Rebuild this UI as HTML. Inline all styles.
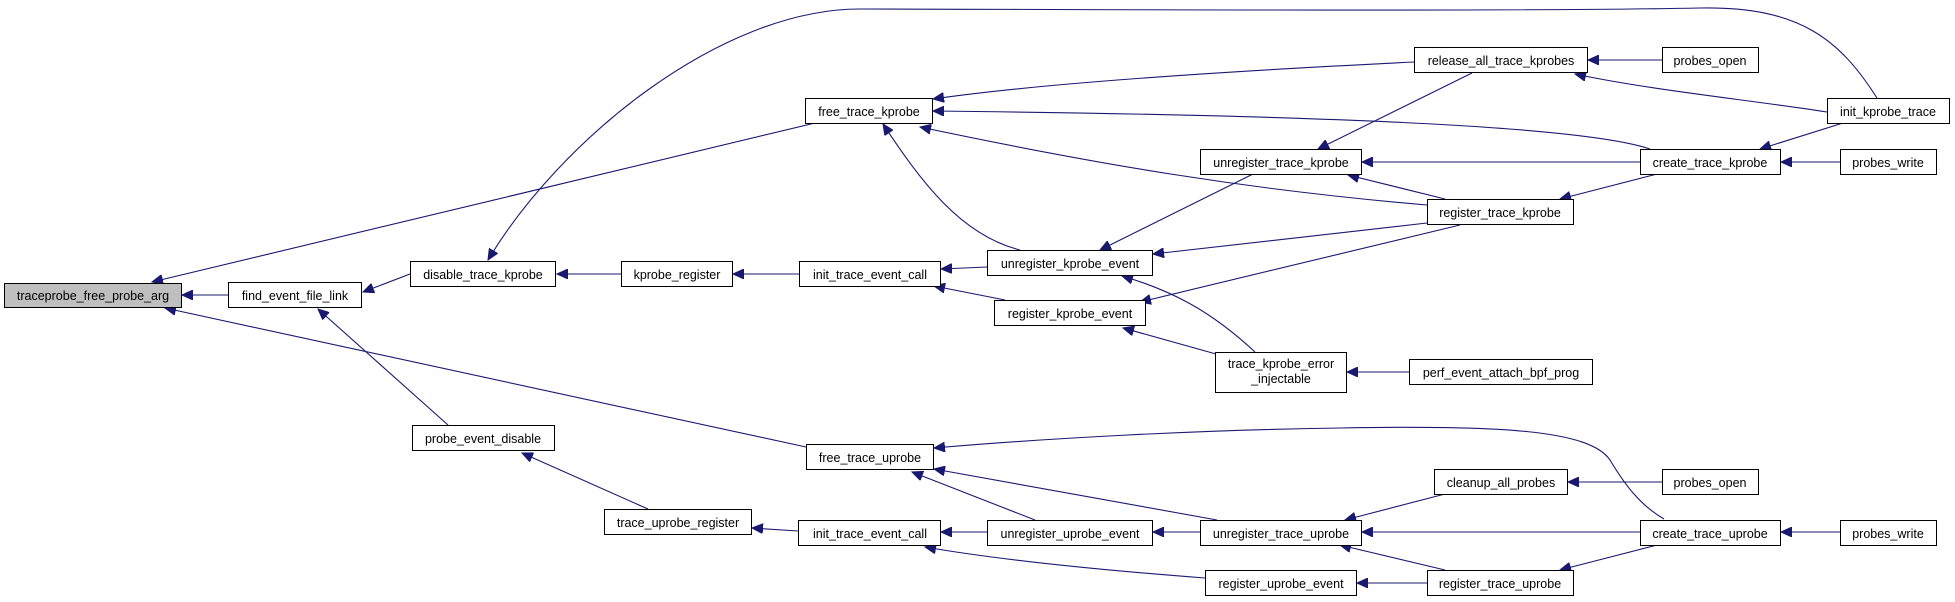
<!DOCTYPE html>
<html><head><meta charset="utf-8"><style>
html,body{margin:0;padding:0;background:#fff;}
svg{display:block;}
text{font-family:"Liberation Sans",sans-serif;font-size:12.5px;fill:#000;text-anchor:middle;}
.b{fill:#fff;stroke:#000;stroke-width:1;}
.e{fill:none;stroke:#191970;stroke-width:1.1;}
</style></head><body>
<svg width="1955" height="602" viewBox="0 0 1955 602" xmlns="http://www.w3.org/2000/svg">
<defs>
<marker id="a" markerWidth="12" markerHeight="10" refX="11" refY="5" orient="auto" markerUnits="userSpaceOnUse">
<path d="M0,0 L11,5 L0,10 Z" fill="#191970" stroke="#191970"/>
</marker>
</defs>
<g marker-end="url(#a)">
<path class="e" d="M228,295 L182,295"/>
<path class="e" d="M815,123 L152,282"/>
<path class="e" d="M806,447 L165,308"/>
<path class="e" d="M410,274 L363,292"/>
<path class="e" d="M448,425 L318,309"/>
<path class="e" d="M1877,98 C1840,40 1800,6 1700,8 C1500,12 1000,9 860,9 C720,9 560,140 488,260"/>
<path class="e" d="M621,274 L557,274"/>
<path class="e" d="M799,274 L733,274"/>
<path class="e" d="M987,267 L941,269"/>
<path class="e" d="M1005,300 L934,286"/>
<path class="e" d="M1414,62 C1250,70 1050,82 933,99"/>
<path class="e" d="M1650,149 C1580,125 1300,115 933,111"/>
<path class="e" d="M1427,205 C1250,190 1100,165 920,127"/>
<path class="e" d="M1020,250 C960,235 920,180 883,124"/>
<path class="e" d="M1253,174 L1100,250"/>
<path class="e" d="M1427,223 L1153,254"/>
<path class="e" d="M1460,225 L1140,302"/>
<path class="e" d="M1255,352 C1210,310 1170,290 1122,276"/>
<path class="e" d="M1216,354 L1123,328"/>
<path class="e" d="M1409,372 L1347,372"/>
<path class="e" d="M1472,73 L1318,149"/>
<path class="e" d="M1662,60 L1588,60"/>
<path class="e" d="M1827,112 C1750,100 1650,90 1575,74"/>
<path class="e" d="M1640,162 L1362,162"/>
<path class="e" d="M1445,199 L1348,175"/>
<path class="e" d="M1843,123 L1760,149"/>
<path class="e" d="M1840,162 L1781,162"/>
<path class="e" d="M1657,174 L1560,199"/>
<path class="e" d="M648,509 L522,453"/>
<path class="e" d="M798,531 L752,528"/>
<path class="e" d="M987,532 L941,532"/>
<path class="e" d="M1205,578 C1100,570 1000,560 925,547"/>
<path class="e" d="M1664,519 C1640,505 1625,485 1610,460 C1590,430 1500,425 1340,428 C1200,430 1050,438 934,448"/>
<path class="e" d="M1035,520 L912,472"/>
<path class="e" d="M1217,520 L934,469"/>
<path class="e" d="M1200,532 L1153,532"/>
<path class="e" d="M1445,494 L1345,520"/>
<path class="e" d="M1662,482 L1568,482"/>
<path class="e" d="M1640,532 L1362,532"/>
<path class="e" d="M1445,570 L1340,545"/>
<path class="e" d="M1657,545 L1560,570"/>
<path class="e" d="M1840,532 L1781,532"/>
<path class="e" d="M1427,583 L1357,583"/>
</g>
<g>
<rect x="4.5" y="283.5" width="177" height="24" fill="#bfbfbf" stroke="#000"/><text x="93" y="300">traceprobe_free_probe_arg</text>
<rect class="b" x="228.5" y="282.5" width="133" height="25"/><text x="295" y="300">find_event_file_link</text>
<rect class="b" x="410.5" y="261.5" width="145" height="25"/><text x="483" y="279">disable_trace_kprobe</text>
<rect class="b" x="621.5" y="261.5" width="111" height="25"/><text x="677" y="279">kprobe_register</text>
<rect class="b" x="799.5" y="261.5" width="141" height="25"/><text x="870" y="279">init_trace_event_call</text>
<rect class="b" x="987.5" y="250.5" width="165" height="25"/><text x="1070" y="268">unregister_kprobe_event</text>
<rect class="b" x="994.5" y="300.5" width="151" height="25"/><text x="1070" y="318">register_kprobe_event</text>
<rect class="b" x="805.5" y="98.5" width="127" height="25"/><text x="869" y="116">free_trace_kprobe</text>
<rect class="b" x="1414.5" y="47.5" width="173" height="25"/><text x="1501" y="65">release_all_trace_kprobes</text>
<rect class="b" x="1662.5" y="47.5" width="96" height="25"/><text x="1710" y="65">probes_open</text>
<rect class="b" x="1827.5" y="98.5" width="122" height="25"/><text x="1888" y="116">init_kprobe_trace</text>
<rect class="b" x="1200.5" y="149.5" width="161" height="25"/><text x="1281" y="167">unregister_trace_kprobe</text>
<rect class="b" x="1640.5" y="149.5" width="140" height="25"/><text x="1710" y="167">create_trace_kprobe</text>
<rect class="b" x="1840.5" y="149.5" width="96" height="25"/><text x="1888" y="167">probes_write</text>
<rect class="b" x="1427.5" y="199.5" width="146" height="25"/><text x="1500" y="217">register_trace_kprobe</text>
<rect class="b" x="1215.5" y="352.5" width="131" height="40"/><text x="1281" y="368">trace_kprobe_error</text><text x="1281" y="383">_injectable</text>
<rect class="b" x="1409.5" y="359.5" width="183" height="25"/><text x="1501" y="377">perf_event_attach_bpf_prog</text>
<rect class="b" x="412.5" y="425.5" width="142" height="25"/><text x="483" y="443">probe_event_disable</text>
<rect class="b" x="806.5" y="444.5" width="127" height="25"/><text x="870" y="462">free_trace_uprobe</text>
<rect class="b" x="604.5" y="509.5" width="147" height="25"/><text x="678" y="527">trace_uprobe_register</text>
<rect class="b" x="798.5" y="520.5" width="142" height="25"/><text x="870" y="538">init_trace_event_call</text>
<rect class="b" x="987.5" y="520.5" width="165" height="25"/><text x="1070" y="538">unregister_uprobe_event</text>
<rect class="b" x="1434.5" y="469.5" width="133" height="25"/><text x="1501" y="487">cleanup_all_probes</text>
<rect class="b" x="1662.5" y="469.5" width="96" height="25"/><text x="1710" y="487">probes_open</text>
<rect class="b" x="1200.5" y="520.5" width="161" height="25"/><text x="1281" y="538">unregister_trace_uprobe</text>
<rect class="b" x="1640.5" y="520.5" width="140" height="25"/><text x="1710" y="538">create_trace_uprobe</text>
<rect class="b" x="1840.5" y="520.5" width="96" height="25"/><text x="1888" y="538">probes_write</text>
<rect class="b" x="1205.5" y="570.5" width="151" height="25"/><text x="1281" y="588">register_uprobe_event</text>
<rect class="b" x="1427.5" y="570.5" width="146" height="25"/><text x="1500" y="588">register_trace_uprobe</text>
</g>
</svg>
</body></html>
